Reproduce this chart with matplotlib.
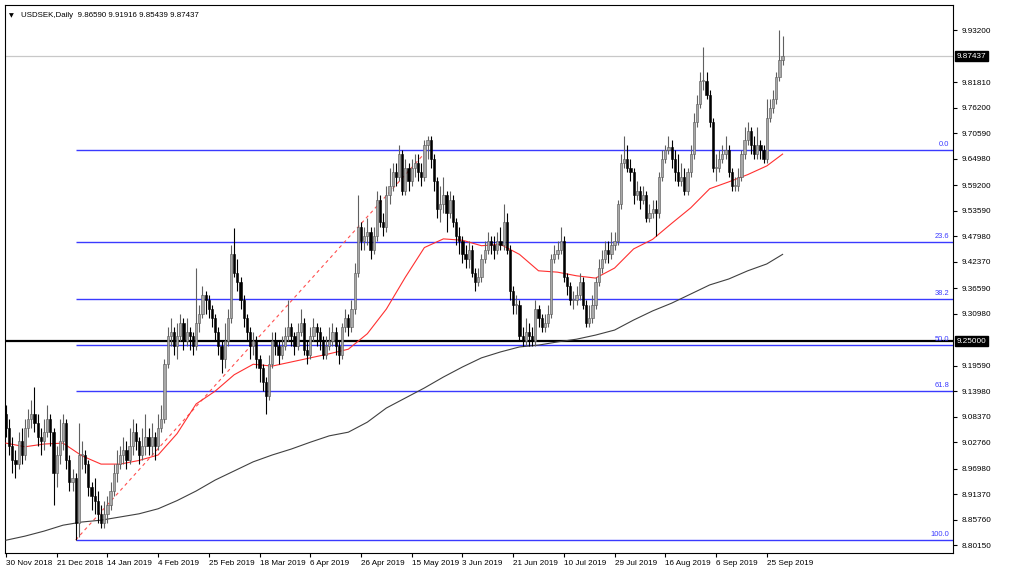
import matplotlib
matplotlib.use("Agg")
import matplotlib.pyplot as plt
import numpy as np

plt.rcParams['font.family'] = ['Liberation Sans', 'DejaVu Sans']

# USDSEK daily candles, bar index = trading day
first_open = 9.09
closes = [
    9.06, 9.02, 8.99, 8.98, 9.03, 9.00, 9.06, 9.08, 9.09, 9.07,
    9.04, 9.03, 9.05, 9.08, 9.05, 8.96, 9.00, 9.03, 9.07, 8.99,
    8.94, 8.95, 8.85, 9.00, 9.00, 8.98, 8.93, 8.91, 8.90, 8.87,
    8.85, 8.87, 8.89, 8.92, 8.96, 8.98, 9.00, 9.01, 8.99, 9.02,
    9.05, 9.03, 9.00, 9.02, 9.04, 9.02, 9.04, 9.02, 9.06, 9.08,
    9.20, 9.26, 9.27, 9.24, 9.26, 9.29, 9.25, 9.27, 9.26, 9.24,
    9.29, 9.31, 9.35, 9.34, 9.32, 9.30, 9.27, 9.24, 9.21, 9.25,
    9.30, 9.44, 9.40, 9.38, 9.34, 9.30, 9.27, 9.24, 9.25, 9.21,
    9.19, 9.16, 9.13, 9.20, 9.25, 9.24, 9.22, 9.24, 9.26, 9.28,
    9.26, 9.24, 9.27, 9.29, 9.23, 9.22, 9.26, 9.28, 9.27, 9.25,
    9.22, 9.24, 9.25, 9.27, 9.24, 9.22, 9.28, 9.30, 9.28, 9.32,
    9.40, 9.50, 9.47, 9.48, 9.49, 9.45, 9.48, 9.56, 9.51, 9.50,
    9.57, 9.59, 9.62, 9.61, 9.66, 9.58, 9.63, 9.60, 9.63, 9.64,
    9.62, 9.61, 9.68, 9.69, 9.65, 9.60, 9.54, 9.55, 9.57, 9.53,
    9.56, 9.51, 9.48, 9.47, 9.44, 9.43, 9.45, 9.40, 9.38, 9.39,
    9.43, 9.45, 9.47, 9.46, 9.45, 9.47, 9.46, 9.51, 9.45, 9.36,
    9.33, 9.33, 9.26, 9.25, 9.27, 9.26, 9.25, 9.32, 9.30, 9.28,
    9.29, 9.31, 9.43, 9.44, 9.45, 9.47, 9.39, 9.37, 9.34, 9.34,
    9.35, 9.38, 9.33, 9.29, 9.30, 9.33, 9.38, 9.41, 9.43, 9.45,
    9.44, 9.46, 9.47, 9.55, 9.64, 9.65, 9.63, 9.62, 9.57, 9.58,
    9.56, 9.57, 9.52, 9.53, 9.54, 9.53, 9.61, 9.65, 9.67, 9.675,
    9.65, 9.62, 9.60, 9.61, 9.58, 9.62, 9.66, 9.73, 9.77, 9.82,
    9.82, 9.79, 9.73, 9.63, 9.63, 9.65, 9.66, 9.67, 9.62, 9.59,
    9.59, 9.61, 9.66, 9.69, 9.71, 9.68, 9.66, 9.68, 9.67, 9.65,
    9.74, 9.76, 9.78, 9.83, 9.8659, 9.87437,
]
highs = [
    9.11, 9.08, 9.04, 9.01, 9.05, 9.06, 9.08, 9.10, 9.12, 9.15,
    9.09, 9.06, 9.08, 9.11, 9.09, 9.06, 9.02, 9.08, 9.09, 9.08,
    9.00, 8.97, 8.96, 9.07, 9.03, 9.01, 8.99, 8.94, 8.95, 8.92,
    8.89, 8.90, 8.91, 8.94, 8.98, 9.01, 9.02, 9.04, 9.03, 9.06,
    9.08, 9.07, 9.04, 9.06, 9.09, 9.06, 9.07, 9.05, 9.09, 9.11,
    9.21, 9.28, 9.30, 9.28, 9.29, 9.31, 9.30, 9.30, 9.28, 9.27,
    9.41, 9.33, 9.37, 9.36, 9.35, 9.33, 9.31, 9.28, 9.25, 9.29,
    9.32, 9.46, 9.497, 9.43, 9.39, 9.35, 9.31, 9.28, 9.27, 9.26,
    9.22, 9.20, 9.17, 9.22, 9.27, 9.27, 9.25, 9.26, 9.28, 9.34,
    9.29, 9.27, 9.29, 9.32, 9.30, 9.25, 9.28, 9.30, 9.29, 9.28,
    9.26, 9.26, 9.28, 9.29, 9.28, 9.25, 9.29, 9.32, 9.31, 9.34,
    9.42, 9.57, 9.51, 9.50, 9.52, 9.50, 9.50, 9.58, 9.57, 9.53,
    9.59, 9.63, 9.64, 9.64, 9.68, 9.67, 9.65, 9.64, 9.65, 9.66,
    9.66, 9.64, 9.69, 9.70, 9.70, 9.66, 9.61, 9.59, 9.61, 9.58,
    9.58, 9.57, 9.52, 9.50, 9.48, 9.46, 9.47, 9.46, 9.41, 9.41,
    9.44, 9.47, 9.49, 9.48, 9.48, 9.49, 9.50, 9.55, 9.53, 9.46,
    9.37, 9.35, 9.34, 9.28, 9.30, 9.29, 9.28, 9.34, 9.33, 9.31,
    9.31, 9.33, 9.44, 9.46, 9.47, 9.50, 9.48, 9.40, 9.38, 9.36,
    9.37, 9.40, 9.39, 9.34, 9.33, 9.35, 9.39, 9.43, 9.45, 9.47,
    9.47, 9.49, 9.49, 9.56, 9.66, 9.70, 9.68, 9.65, 9.63, 9.60,
    9.59, 9.59, 9.58, 9.55, 9.56, 9.56, 9.62, 9.67, 9.68, 9.70,
    9.69, 9.67, 9.66, 9.64, 9.63, 9.63, 9.68, 9.75, 9.79, 9.84,
    9.895, 9.84, 9.80, 9.74, 9.66, 9.67, 9.68, 9.70, 9.68, 9.63,
    9.61, 9.63, 9.67, 9.72, 9.73, 9.72, 9.70, 9.72, 9.69, 9.68,
    9.78, 9.78, 9.80, 9.84, 9.932, 9.91916,
]
lows = [
    9.04, 9.00, 8.96, 8.95, 8.97, 8.98, 8.99, 9.04, 9.06, 9.05,
    9.02, 9.00, 9.01, 9.04, 9.02, 8.89, 8.93, 8.98, 9.01, 8.97,
    8.92, 8.92, 8.814, 8.82, 8.97, 8.96, 8.91, 8.88, 8.87, 8.85,
    8.84, 8.84, 8.85, 8.88, 8.91, 8.94, 8.97, 8.98, 8.97, 8.98,
    9.00, 9.01, 8.98, 8.99, 9.00, 9.00, 9.00, 8.99, 9.01, 9.05,
    9.07, 9.19, 9.24, 9.22, 9.21, 9.25, 9.23, 9.24, 9.23, 9.22,
    9.23, 9.27, 9.30, 9.31, 9.30, 9.28, 9.25, 9.22, 9.18, 9.19,
    9.24, 9.29, 9.39, 9.36, 9.32, 9.28, 9.25, 9.21, 9.22, 9.19,
    9.16, 9.14, 9.09, 9.12, 9.19, 9.22, 9.20, 9.21, 9.23, 9.25,
    9.24, 9.22, 9.23, 9.26, 9.22, 9.20, 9.21, 9.25, 9.24, 9.23,
    9.21, 9.21, 9.23, 9.24, 9.22, 9.20, 9.21, 9.27, 9.26, 9.27,
    9.31, 9.39, 9.45, 9.45, 9.46, 9.43, 9.44, 9.47, 9.50, 9.48,
    9.49, 9.55, 9.58, 9.59, 9.60, 9.57, 9.57, 9.58, 9.59, 9.61,
    9.60, 9.59, 9.60, 9.65, 9.63, 9.58, 9.52, 9.51, 9.53, 9.49,
    9.52, 9.50, 9.46, 9.44, 9.42, 9.41, 9.41, 9.39, 9.36, 9.37,
    9.38, 9.42, 9.44, 9.44, 9.43, 9.44, 9.45, 9.45, 9.44, 9.34,
    9.31, 9.31, 9.25, 9.24, 9.24, 9.24, 9.24, 9.24, 9.28, 9.27,
    9.27, 9.28, 9.30, 9.42, 9.43, 9.44, 9.38, 9.35, 9.33, 9.32,
    9.33, 9.34, 9.32, 9.28, 9.28, 9.29, 9.32, 9.37, 9.40, 9.42,
    9.42, 9.43, 9.45, 9.46, 9.54, 9.63, 9.62, 9.60, 9.55, 9.56,
    9.54, 9.55, 9.51, 9.51, 9.52, 9.48, 9.52, 9.60, 9.64, 9.66,
    9.63, 9.60, 9.59, 9.59, 9.57, 9.57, 9.61, 9.65, 9.72, 9.76,
    9.80, 9.78, 9.72, 9.62, 9.60, 9.62, 9.64, 9.65, 9.61, 9.58,
    9.58, 9.58, 9.60, 9.65, 9.68, 9.66, 9.65, 9.65, 9.65, 9.64,
    9.64, 9.73, 9.75, 9.77, 9.82, 9.85439,
]

# moving averages sampled every 6 bars (red = fast MA, black = slow MA)
ma_bars = list(range(0, 241, 6)) + [245]
ma_fast = [
    9.026, 9.018, 9.024, 9.026, 8.998, 8.980, 8.980, 8.988, 9.000, 9.047,
    9.112, 9.140, 9.176, 9.199, 9.195, 9.204, 9.213, 9.222, 9.232, 9.266,
    9.320, 9.390, 9.455, 9.474, 9.471, 9.459, 9.462, 9.440, 9.404, 9.401,
    9.393, 9.388, 9.410, 9.452, 9.473, 9.508, 9.542, 9.584, 9.599, 9.615,
    9.634, 9.660,
]
ma_slow = [
    8.813, 8.822, 8.833, 8.846, 8.853, 8.857, 8.864, 8.871, 8.882, 8.900,
    8.921, 8.945, 8.965, 8.985, 9.000, 9.013, 9.028, 9.042, 9.050, 9.072,
    9.103, 9.125, 9.147, 9.171, 9.193, 9.213, 9.226, 9.237, 9.241, 9.248,
    9.254, 9.263, 9.274, 9.296, 9.316, 9.333, 9.353, 9.373, 9.386, 9.404,
    9.419, 9.440,
]

# fibonacci retracement
fib_low, fib_high = 8.8136, 9.669
fib_start, fib_end = 22, 133
fib_pcts = [0.0, 23.6, 38.2, 50.0, 61.8, 100.0]
support = 9.25
last_price = 9.87437

ytick_vals = [9.93200, 9.81810, 9.76200, 9.70590, 9.64980, 9.59200, 9.53590,
              9.47980, 9.42370, 9.36590, 9.30980, 9.19590, 9.13980, 9.08370,
              9.02760, 8.96980, 8.91370, 8.85760, 8.80150]
xtick_labels = ["30 Nov 2018", "21 Dec 2018", "14 Jan 2019", "4 Feb 2019",
                "25 Feb 2019", "18 Mar 2019", "6 Apr 2019", "26 Apr 2019",
                "15 May 2019", "3 Jun 2019", "21 Jun 2019", "10 Jul 2019",
                "29 Jul 2019", "16 Aug 2019", "6 Sep 2019", "25 Sep 2019"]

closes = np.array(closes)
highs = np.array(highs)
lows = np.array(lows)
opens = np.concatenate([[first_open], closes[:-1]])
opens[-1] = 9.86590
idx = np.arange(len(closes))

fs = 5.4  # small MT4-like text

fig = plt.figure(figsize=(10.24, 5.72), dpi=100)
ax = fig.add_axes([5 / 1024, 19 / 572, 948 / 1024, 548 / 572])
xmin = -0.3
xmax = xmin + 948 / 3.17
ax.set_xlim(xmin, xmax)
ax.set_ylim(8.785, 9.987)

# reference lines
ax.axhline(last_price, color="#c8c8c8", lw=0.9, zorder=1)
for p in fib_pcts:
    lvl = fib_high - (fib_high - fib_low) * p / 100
    ax.hlines(lvl, fib_start, xmax, color="#3a3aff", lw=1.0, zorder=2)
    ax.text(xmax - 1.2, lvl + 0.004, f"{p:.1f}", color="#3a3aff",
            fontsize=fs, ha="right", va="bottom", zorder=5)
ax.axhline(support, color="black", lw=1.6, zorder=3)
ax.plot([fib_start, fib_end], [fib_low, fib_high], color="#ff5050",
        ls=(0, (3, 3)), lw=0.8, zorder=2)

# moving averages
ax.plot(ma_bars, ma_fast, color="#ff3030", lw=0.8, zorder=4)
ax.plot(ma_bars, ma_slow, color="#404040", lw=0.8, zorder=4)

# candles
up = closes >= opens
ax.vlines(idx[up], lows[up], highs[up], color="#606060", lw=0.8, zorder=5)
ax.vlines(idx[~up], lows[~up], highs[~up], color="black", lw=0.8, zorder=5)
body = np.where(np.abs(closes - opens) < 0.002, 0.002, closes - opens)
ax.bar(idx[up], body[up], bottom=opens[up], width=0.7, color="#a8a8a8",
       edgecolor="#555555", linewidth=0.4, zorder=6)
ax.bar(idx[~up], body[~up], bottom=opens[~up], width=0.7, color="black",
       edgecolor="black", linewidth=0.4, zorder=6)

# axes styling
for s in ax.spines.values():
    s.set_color("black")
    s.set_linewidth(0.8)
ax.yaxis.tick_right()
ax.set_yticks(ytick_vals)
ax.set_yticklabels([f"{v:.5f}" for v in ytick_vals])
ax.tick_params(axis="y", labelsize=fs + 0.5, length=3, pad=3, colors="black")
ax.set_xticks(np.arange(0, 16 * len(xtick_labels), 16))
ax.set_xticklabels(xtick_labels, ha="left")
ax.tick_params(axis="x", labelsize=fs + 0.5, length=3, pad=2)

# price tags on the axis
for val in [last_price, support]:
    ax.text(1.004, val, f"{val:.5f}", transform=ax.get_yaxis_transform(),
            fontsize=fs + 0.5, color="white", va="center", ha="left",
            bbox=dict(boxstyle="square,pad=0.2", fc="black", ec="black"))

ax.text(0.004, 0.985, "\u25bc", transform=ax.transAxes, fontsize=4.5,
        va="top", ha="left", family="DejaVu Sans")
ax.text(0.017, 0.988, "USDSEK,Daily  9.86590 9.91916 9.85439 9.87437",
        transform=ax.transAxes, fontsize=fs + 0.3, va="top", ha="left")

fig.savefig("out.png", dpi=100)
